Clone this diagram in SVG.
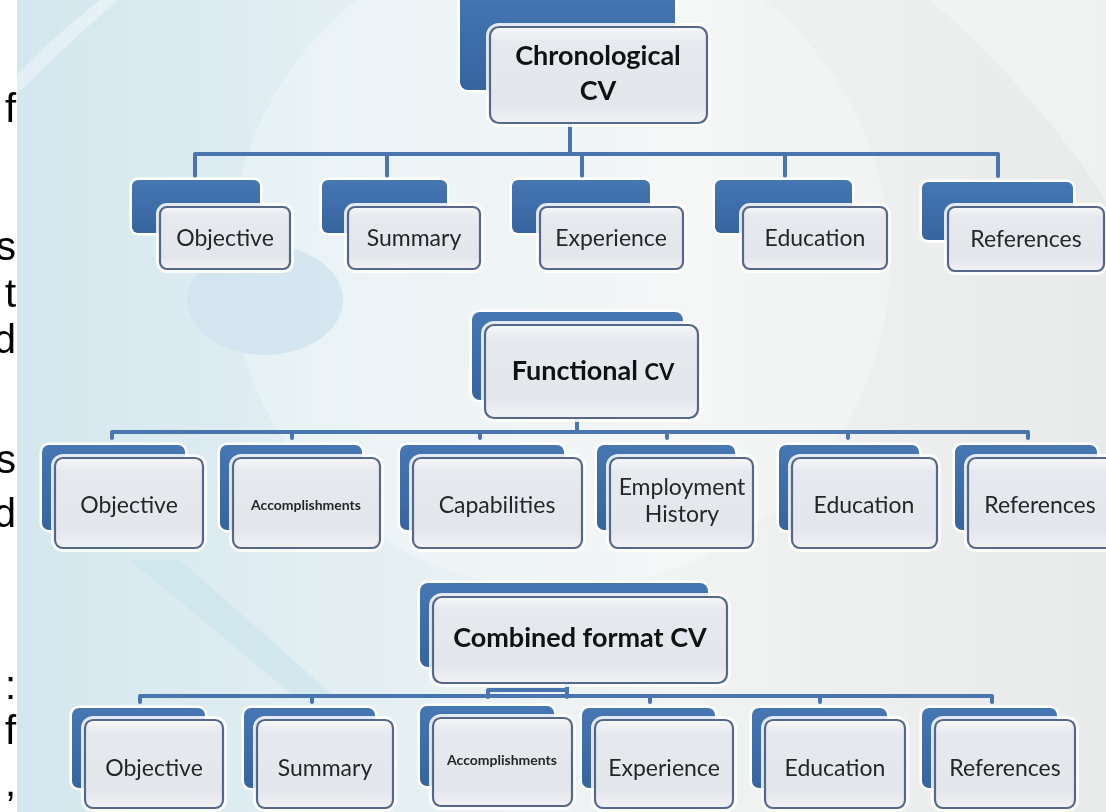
<svg xmlns="http://www.w3.org/2000/svg" width="1106" height="812" viewBox="0 0 1106 812">
  <defs>
    <linearGradient id="bgGrad" x1="0" y1="0" x2="1" y2="0">
      <stop offset="0" stop-color="#d3e7ee"/>
      <stop offset="0.3" stop-color="#e3eff3"/>
      <stop offset="0.6" stop-color="#f1f3f3"/>
      <stop offset="1" stop-color="#e9eaea"/>
    </linearGradient>
    <linearGradient id="boxFill" x1="0" y1="0" x2="0" y2="1">
      <stop offset="0" stop-color="#f6f7f9"/>
      <stop offset="0.15" stop-color="#e6e9ee"/>
      <stop offset="0.8" stop-color="#e3e6eb"/>
      <stop offset="1" stop-color="#f1f2f5"/>
    </linearGradient>
    <linearGradient id="backFill" x1="0" y1="0" x2="0" y2="1">
      <stop offset="0" stop-color="#4677b3"/>
      <stop offset="1" stop-color="#36649f"/>
    </linearGradient>
    <style>
      .halo { fill: #ffffff; stroke: #ffffff; stroke-width: 8; stroke-linejoin: round; opacity: 0.85; }
      .back { fill: url(#backFill); stroke: #ffffff; stroke-width: 5; paint-order: stroke; }
      .front { fill: url(#boxFill); stroke: #56688a; stroke-width: 2.2; }
      .lbl { font-family: "Lato", "Open Sans", sans-serif; font-size: 23px; fill: #262626; text-anchor: middle; }
      .small { font-family: "Lato", "Open Sans", sans-serif; font-size: 14px; font-weight: bold; fill: #262626; text-anchor: middle; }
      .title { font-family: "Lato", "Open Sans", sans-serif; font-size: 27px; font-weight: bold; fill: #111111; text-anchor: middle; }
      .edge { fill: none; stroke: #4a75ae; stroke-width: 4; stroke-linecap: round; stroke-linejoin: round; }
      .frag { font-family: "Liberation Sans", Arial, sans-serif; font-size: 40px; fill: #000000; text-anchor: end; }
    </style>
  </defs>

  <!-- page background -->
  <rect x="0" y="0" width="1106" height="812" fill="#ffffff"/>
  <rect x="17" y="0" width="1089" height="812" fill="url(#bgGrad)"/>
  <g id="backdrop" opacity="0.6">
    <circle cx="560" cy="260" r="330" fill="#ffffff" opacity="0.45"/>
    <ellipse cx="265" cy="300" rx="78" ry="55" fill="#cfe2ee"/>
    <polygon points="130,560 180,560 335,697 295,697" fill="#c9e4ec"/>
    <path d="M17,75 C45,45 75,20 100,0 L118,0 C90,25 55,55 17,95 Z" fill="#ffffff" opacity="0.6"/>
    <path d="M930,0 C1000,60 1060,130 1106,200 L1106,0 Z" fill="#ffffff" opacity="0.5"/>
  </g>

  <!-- text fragments along the left margin -->
  <g id="margin-text">
    <text class="frag" x="16" y="122">f</text>
    <text class="frag" x="16" y="260">s</text>
    <text class="frag" x="16" y="307">t</text>
    <text class="frag" x="16" y="353">d</text>
    <text class="frag" x="16" y="473">s</text>
    <text class="frag" x="16" y="527">d</text>
    <text class="frag" x="16" y="699">:</text>
    <text class="frag" x="16" y="744">f</text>
    <text class="frag" x="16" y="796">,</text>
  </g>

  <!-- connectors -->
  <g id="connectors">
    <!-- Chronological CV -->
    <path class="edge" d="M570,123 V154"/>
    <path class="edge" d="M195,176 V154 H998 V176"/>
    <path class="edge" d="M387,154 V176 M582,154 V176 M785,154 V176"/>
    <!-- Functional CV -->
    <path class="edge" d="M577,418 V432"/>
    <path class="edge" d="M112,438 V432 H1028 V438"/>
    <path class="edge" d="M292,432 V438 M480,432 V438 M667,432 V438 M848,432 V438"/>
    <!-- Combined format CV -->
    <path class="edge" d="M567,683 V690"/>
    <path class="edge" d="M140,702 V696 H992 V702"/>
    <path class="edge" d="M312,696 V702 M650,696 V702 M820,696 V702"/>
    <path class="edge" d="M488,697 V690 H567 V697"/>
  </g>

  <!-- Chronological CV -->
  <g id="chronological-cv">
    <rect class="back" x="460" y="-12" width="215" height="102" rx="8"/>
    <rect class="halo" x="490" y="27" width="217" height="96" rx="9"/>
    <rect class="front" x="490" y="27" width="217" height="96" rx="9"/>
    <text class="title" x="598" y="65">Chronological</text>
    <text class="title" x="598" y="100">CV</text>
  </g>
  <g id="chrono-objective">
    <rect class="back" x="132" y="180" width="128" height="53" rx="6"/>
    <rect class="halo" x="160" y="207" width="130" height="62" rx="7"/>
    <rect class="front" x="160" y="207" width="130" height="62" rx="7"/>
    <text class="lbl" x="225" y="246">Objective</text>
  </g>
  <g id="chrono-summary">
    <rect class="back" x="322" y="180" width="125" height="53" rx="6"/>
    <rect class="halo" x="348" y="207" width="132" height="62" rx="7"/>
    <rect class="front" x="348" y="207" width="132" height="62" rx="7"/>
    <text class="lbl" x="414" y="246">Summary</text>
  </g>
  <g id="chrono-experience">
    <rect class="back" x="512" y="180" width="138" height="53" rx="6"/>
    <rect class="halo" x="540" y="207" width="143" height="62" rx="7"/>
    <rect class="front" x="540" y="207" width="143" height="62" rx="7"/>
    <text class="lbl" x="611" y="246">Experience</text>
  </g>
  <g id="chrono-education">
    <rect class="back" x="715" y="180" width="137" height="53" rx="6"/>
    <rect class="halo" x="743" y="207" width="144" height="62" rx="7"/>
    <rect class="front" x="743" y="207" width="144" height="62" rx="7"/>
    <text class="lbl" x="815" y="246">Education</text>
  </g>
  <g id="chrono-references">
    <rect class="back" x="922" y="182" width="151" height="58" rx="6"/>
    <rect class="halo" x="948" y="207" width="156" height="64" rx="7"/>
    <rect class="front" x="948" y="207" width="156" height="64" rx="7"/>
    <text class="lbl" x="1026" y="247">References</text>
  </g>

  <!-- Functional CV -->
  <g id="functional-cv">
    <rect class="back" x="472" y="312" width="211" height="88" rx="8"/>
    <rect class="halo" x="485" y="325" width="213" height="93" rx="9"/>
    <rect class="front" x="485" y="325" width="213" height="93" rx="9"/>
    <text class="title" x="593" y="380">Functional <tspan font-size="22">CV</tspan></text>
  </g>
  <g id="func-objective">
    <rect class="back" x="42" y="445" width="143" height="85" rx="7"/>
    <rect class="halo" x="55" y="458" width="148" height="90" rx="8"/>
    <rect class="front" x="55" y="458" width="148" height="90" rx="8"/>
    <text class="lbl" x="129" y="513">Objective</text>
  </g>
  <g id="func-accomplishments">
    <rect class="back" x="220" y="445" width="142" height="85" rx="7"/>
    <rect class="halo" x="233" y="458" width="147" height="90" rx="8"/>
    <rect class="front" x="233" y="458" width="147" height="90" rx="8"/>
    <text class="small" x="306" y="510">Accomplishments</text>
  </g>
  <g id="func-capabilities">
    <rect class="back" x="400" y="445" width="164" height="85" rx="7"/>
    <rect class="halo" x="413" y="458" width="169" height="90" rx="8"/>
    <rect class="front" x="413" y="458" width="169" height="90" rx="8"/>
    <text class="lbl" x="497" y="513">Capabilities</text>
  </g>
  <g id="func-employment-history">
    <rect class="back" x="597" y="445" width="138" height="85" rx="7"/>
    <rect class="halo" x="610" y="458" width="143" height="90" rx="8"/>
    <rect class="front" x="610" y="458" width="143" height="90" rx="8"/>
    <text class="lbl" x="682" y="495" font-size="20">Employment</text>
    <text class="lbl" x="682" y="522" font-size="20">History</text>
  </g>
  <g id="func-education">
    <rect class="back" x="779" y="445" width="140" height="85" rx="7"/>
    <rect class="halo" x="792" y="458" width="145" height="90" rx="8"/>
    <rect class="front" x="792" y="458" width="145" height="90" rx="8"/>
    <text class="lbl" x="864" y="513">Education</text>
  </g>
  <g id="func-references">
    <rect class="back" x="955" y="445" width="142" height="85" rx="7"/>
    <rect class="halo" x="968" y="458" width="147" height="90" rx="8"/>
    <rect class="front" x="968" y="458" width="147" height="90" rx="8"/>
    <text class="lbl" x="1040" y="513">References</text>
  </g>

  <!-- Combined format CV -->
  <g id="combined-cv">
    <rect class="back" x="420" y="583" width="288" height="84" rx="8"/>
    <rect class="halo" x="433" y="597" width="294" height="86" rx="9"/>
    <rect class="front" x="433" y="597" width="294" height="86" rx="9"/>
    <text class="title" x="580" y="647">Combined format CV</text>
  </g>
  <g id="comb-objective">
    <rect class="back" x="72" y="708" width="133" height="80" rx="7"/>
    <rect class="halo" x="85" y="720" width="138" height="88" rx="8"/>
    <rect class="front" x="85" y="720" width="138" height="88" rx="8"/>
    <text class="lbl" x="154" y="776">Objective</text>
  </g>
  <g id="comb-summary">
    <rect class="back" x="244" y="708" width="131" height="80" rx="7"/>
    <rect class="halo" x="257" y="720" width="136" height="88" rx="8"/>
    <rect class="front" x="257" y="720" width="136" height="88" rx="8"/>
    <text class="lbl" x="325" y="776">Summary</text>
  </g>
  <g id="comb-accomplishments">
    <rect class="back" x="420" y="706" width="134" height="80" rx="7"/>
    <rect class="halo" x="433" y="718" width="139" height="88" rx="8"/>
    <rect class="front" x="433" y="718" width="139" height="88" rx="8"/>
    <text class="small" x="502" y="765" font-size="13">Accomplishments</text>
  </g>
  <g id="comb-experience">
    <rect class="back" x="582" y="708" width="133" height="80" rx="7"/>
    <rect class="halo" x="595" y="720" width="138" height="88" rx="8"/>
    <rect class="front" x="595" y="720" width="138" height="88" rx="8"/>
    <text class="lbl" x="664" y="776">Experience</text>
  </g>
  <g id="comb-education">
    <rect class="back" x="752" y="708" width="135" height="80" rx="7"/>
    <rect class="halo" x="765" y="720" width="140" height="88" rx="8"/>
    <rect class="front" x="765" y="720" width="140" height="88" rx="8"/>
    <text class="lbl" x="835" y="776">Education</text>
  </g>
  <g id="comb-references">
    <rect class="back" x="922" y="708" width="135" height="80" rx="7"/>
    <rect class="halo" x="935" y="720" width="140" height="88" rx="8"/>
    <rect class="front" x="935" y="720" width="140" height="88" rx="8"/>
    <text class="lbl" x="1005" y="776">References</text>
  </g>
</svg>
